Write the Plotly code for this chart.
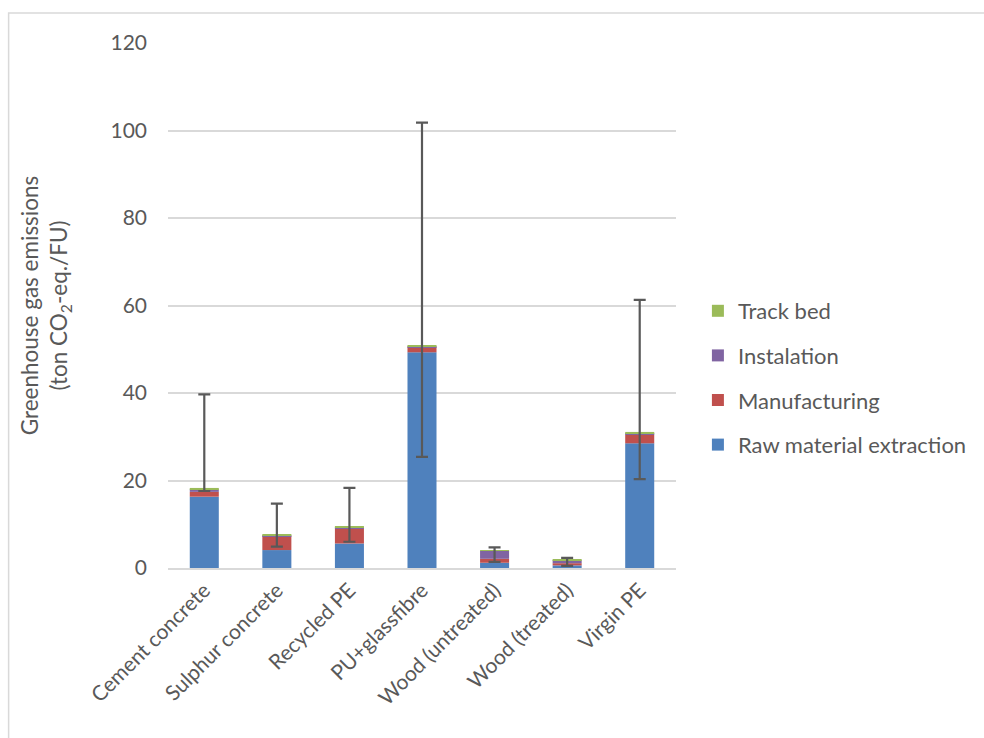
import plotly.graph_objects as go

categories = ["Cement concrete", "Sulphur concrete", "Recycled PE", "PU+glassfibre",
              "Wood (untreated)", "Wood (treated)", "Virgin PE"]

raw_material = [16.3, 4.1, 5.6, 49.3, 1.2, 0.6, 28.5]
manufacturing = [1.1, 3.2, 3.4, 1.2, 0.9, 0.5, 2.0]
instalation = [0.6, 0.2, 0.2, 0.2, 1.8, 0.7, 0.3]
track_bed = [0.3, 0.1, 0.2, 0.1, 0.05, 0.05, 0.3]

upper_bound = [39.7, 14.7, 18.3, 101.8, 4.7, 2.3, 61.3]
lower_bound = [17.6, 4.9, 6.0, 25.4, 1.4, 0.5, 20.3]

series = [
    ("Raw material extraction", raw_material, "#4F81BD"),
    ("Manufacturing", manufacturing, "#C0504D"),
    ("Instalation", instalation, "#8064A2"),
    ("Track bed", track_bed, "#9BBB59"),
]

FONT = "Lato"
GREY = "#595959"

fig = go.Figure()
for i, (name, vals, color) in enumerate(series):
    fig.add_trace(go.Bar(
        x=categories, y=vals, name=name, legendgroup=name,
        legendrank=len(series) - i,
        marker=dict(color=color, line=dict(width=0)),
    ))

totals = [sum(v) for v in zip(raw_material, manufacturing, instalation, track_bed)]
err_plus = [u - t for u, t in zip(upper_bound, totals)]
err_minus = [t - l for t, l in zip(totals, lower_bound)]

fig.add_trace(go.Scatter(
    x=categories, y=totals, mode="markers", marker=dict(size=0.1, opacity=0),
    showlegend=False, hoverinfo="skip",
    error_y=dict(type="data", symmetric=False, array=err_plus, arrayminus=err_minus,
                 color=GREY, thickness=2.2, width=6),
))

L, R, T, B = 168, 306, 43, 170
W, H = 984, 738
pw, ph = W - L - R, H - T - B

fig.update_layout(
    width=W, height=H,
    margin=dict(l=L, r=R, t=T, b=B),
    barmode="relative", bargap=0.6,
    plot_bgcolor="white", paper_bgcolor="white",
    font=dict(family=FONT, color=GREY, size=20),
    legend=dict(
        x=(700 - L) / pw, y=(H - B - 290) / ph, xanchor="left", yanchor="top",
        traceorder="grouped", tracegroupgap=13,
        font=dict(size=22, color=GREY), itemwidth=30,
    ),
    xaxis=dict(
        tickangle=-45, tickfont=dict(size=21, color=GREY),
        showline=True, linecolor="#D9D9D9", linewidth=1.5, ticks="",
        showgrid=False,
    ),
    yaxis=dict(
        range=[0, 120], dtick=20, tickfont=dict(size=21, color=GREY),
        showgrid=True, gridcolor="#D9D9D9", gridwidth=1.5,
        zeroline=False, showline=False, ticks="", ticklabelstandoff=20,
        title=dict(text="Greenhouse gas emissions<br>(ton CO<sub>2</sub>-eq./FU)",
                   font=dict(size=22.5, color=GREY), standoff=36),
    ),
    shapes=[dict(
        type="rect", xref="paper", yref="paper",
        x0=(8 - L) / pw, x1=(W + 5 - L) / pw,
        y0=(H - B - (H + 5)) / ph, y1=(H - B - 13) / ph,
        line=dict(color="#D9D9D9", width=1.5), fillcolor="rgba(0,0,0,0)", layer="below",
    )],
)

fig.write_html("out.html")
